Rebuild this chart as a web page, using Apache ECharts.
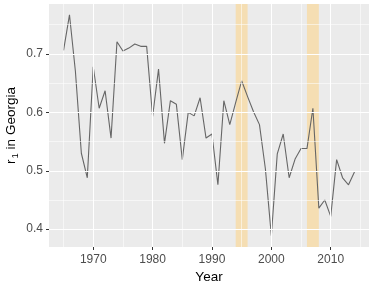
<!DOCTYPE html>
<html>
<head>
<meta charset="utf-8">
<script src="https://cdn.jsdelivr.net/npm/echarts@6/dist/echarts.min.js"></script>
<style>html,body{margin:0;padding:0;background:#fff}#c{width:374px;height:286px}</style>
</head>
<body>
<div id="c"></div>
<script>
const years = [1965,1966,1967,1968,1969,1970,1971,1972,1973,1974,1975,1976,1977,1978,1979,1980,1981,1982,1983,1984,1985,1986,1987,1988,1989,1990,1991,1992,1993,1994,1995,1996,1997,1998,1999,2000,2001,2002,2003,2004,2005,2006,2007,2008,2009,2010,2011,2012,2013,2014];
const r1 = [0.706,0.767,0.670,0.530,0.488,0.678,0.607,0.637,0.556,0.721,0.705,0.710,0.717,0.713,0.713,0.593,0.674,0.547,0.620,0.614,0.519,0.600,0.594,0.625,0.556,0.563,0.476,0.620,0.579,0.617,0.654,0.627,0.601,0.579,0.503,0.389,0.529,0.563,0.488,0.520,0.538,0.538,0.607,0.436,0.450,0.422,0.519,0.488,0.476,0.498];
const bands = [[1994,1996],[2006,2008]];
const xMajor = [1970,1980,1990,2000,2010];
const xMinor = [1965,1975,1985,1995,2005,2015];
const yMajor = [0.4,0.5,0.6,0.7];
const yMinor = [0.45,0.55,0.65,0.75];

const xMin = 1962.55, xMax = 2016.45;
const yMin = 0.3695, yMax = 0.7855;

const grid = [];
xMinor.forEach(v => grid.push({xAxis: v, lineStyle: {color: '#fff', width: 0.55, type: 'solid'}}));
yMinor.forEach(v => grid.push({yAxis: v, lineStyle: {color: '#fff', width: 0.55, type: 'solid'}}));
xMajor.forEach(v => grid.push({xAxis: v, lineStyle: {color: '#fff', width: 1.1, type: 'solid'}}));
yMajor.forEach(v => grid.push({yAxis: v, lineStyle: {color: '#fff', width: 1.1, type: 'solid'}}));

const chart = echarts.init(document.getElementById('c'), null, {renderer: 'canvas'});
chart.setOption({
  animation: false,
  backgroundColor: '#fff',
  grid: {left: 49, right: 5, top: 4, bottom: 39, show: true, backgroundColor: '#EBEBEB', borderWidth: 0,
         containLabel: false, outerBoundsMode: 'none'},
  xAxis: {
    type: 'value', min: xMin, max: xMax,
    axisLine: {show: false},
    splitLine: {show: false},
    axisTick: {show: true, length: 3, lineStyle: {color: '#333', width: 1}, customValues: xMajor},
    axisLabel: {customValues: xMajor, color: '#4D4D4D', fontSize: 12, fontFamily: 'Liberation Sans', margin: 7,
      formatter: v => String(Math.round(v))},
    name: 'Year', nameLocation: 'middle', nameGap: 23, nameMoveOverlap: false,
    nameTextStyle: {color: '#000', fontSize: 13.5, fontFamily: 'Liberation Sans'}
  },
  yAxis: {
    type: 'value', min: yMin, max: yMax,
    axisLine: {show: false},
    splitLine: {show: false},
    axisTick: {show: true, length: 3, lineStyle: {color: '#333', width: 1}, customValues: yMajor},
    axisLabel: {customValues: yMajor, color: '#4D4D4D', fontSize: 12, fontFamily: 'Liberation Sans', margin: 6,
      formatter: v => v.toFixed(1)},
    name: '{a|r}{b|1}{a| in Georgia}', nameLocation: 'middle', nameGap: 29, nameRotate: 90, nameMoveOverlap: false,
    nameTextStyle: {color: '#000', fontFamily: 'Liberation Sans',
      rich: {a: {fontSize: 13.5, fontFamily: 'Liberation Sans', color: '#000', lineHeight: 18},
             b: {fontSize: 9.5, fontFamily: 'Liberation Sans', color: '#000', lineHeight: 18, verticalAlign: 'bottom', padding: [6,0,0,1]}}}
  },
  series: [
    {type: 'line', data: [], z: 1, silent: true,
     markLine: {silent: true, symbol: ['none','none'], label: {show: false}, animation: false, data: grid}},
    {type: 'line', data: [], z: 2, silent: true,
     markArea: {silent: true, itemStyle: {color: '#F5DEB3', opacity: 1}, data: bands.map(b => [{xAxis: b[0]}, {xAxis: b[1]}])}},
    {type: 'line', z: 3, data: years.map((y, i) => [y, r1[i]]), showSymbol: false, symbol: 'none',
     lineStyle: {color: '#666666', width: 1.1}}
  ]
});
</script>
</body>
</html>
